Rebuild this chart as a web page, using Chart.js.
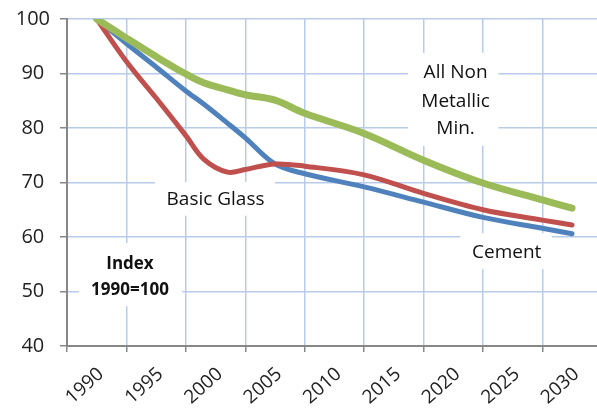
<!DOCTYPE html>
<html>
<head>
<meta charset="utf-8">
<script src="https://cdn.jsdelivr.net/npm/chart.js@4.4.0/dist/chart.umd.min.js"></script>
<style>
  html, body { margin: 0; padding: 0; background: #fff; }
</style>
</head>
<body>
<canvas id="indexChart" width="597" height="410"></canvas>
<script>
// values (index, 1990 = 100)
const years = [1992.5, 1995, 1997.5, 2000, 2001.5, 2003.5, 2005, 2007.5, 2010, 2015, 2020, 2025, 2030, 2032.5];
const nonMetallic = [100, 96.5, 93.1, 89.9, 88.3, 87.0, 86.1, 85.1, 82.7, 79.0, 74.1, 69.9, 66.8, 65.3];
const basicGlass = [100, 92.2, 85.5, 78.6, 74.3, 71.9, 72.4, 73.4, 73.0, 71.4, 68.0, 65.0, 63.1, 62.2];
const cement = [100, 95.5, 91.2, 86.8, 84.4, 80.9, 78.2, 73.4, 71.6, 69.2, 66.4, 63.6, 61.6, 60.6];

const xTicks = [1990, 1995, 2000, 2005, 2010, 2015, 2020, 2025, 2030];
const yTicks = [40, 50, 60, 70, 80, 90, 100];

// text notes, placed in data units (center, box corners)
const notes = [
  { lines: ['All Non', 'Metallic', 'Min.'], x: 2022.7, y: [90.1, 84.8, 79.8], box: [2018.7, 93.8, 2026.3, 76.7], bold: false },
  { lines: ['Basic Glass'], x: 2002.5, y: [66.8], box: [1997.4, 70.1, 2007.5, 63.9], bold: false },
  { lines: ['Cement'], x: 2027.0, y: [57.1], box: [2023.1, 60.7, 2030.8, 54.1], bold: false },
  { lines: ['Index', '1990=100'], x: 1995.3, y: [55.0, 50.3], box: [1991.0, 58.9, 1999.7, 47.3], bold: true }
];

function toPoints(vals) {
  return vals.map((v, i) => ({ x: years[i], y: v }));
}

const notesPlugin = {
  id: 'notes',
  beforeDatasetsDraw(chart) {
    const { ctx, scales: { x, y } } = chart;
    ctx.save();
    notes.forEach(n => {
      const x0 = x.getPixelForValue(n.box[0]), y0 = y.getPixelForValue(n.box[1]);
      const x1 = x.getPixelForValue(n.box[2]), y1 = y.getPixelForValue(n.box[3]);
      ctx.fillStyle = '#fff';
      ctx.fillRect(x0, y0, x1 - x0, y1 - y0);
      ctx.fillStyle = '#111';
      ctx.textAlign = 'center';
      ctx.textBaseline = 'middle';
      ctx.font = n.bold ? 'bold 17px "Open Sans"' : '19px "Open Sans"';
      n.lines.forEach((t, i) => {
        ctx.fillText(t, x.getPixelForValue(n.x), y.getPixelForValue(n.y[i]));
      });
    });
    ctx.restore();
  }
};

const gridBlue = '#b8cbea';
const axisGrey = '#878787';

const ctx = document.getElementById('indexChart').getContext('2d');
const indexChart = new Chart(ctx, {
  type: 'line',
  data: {
    datasets: [
      { label: 'All Non Metallic Min.', data: toPoints(nonMetallic), borderColor: '#9bbb59', borderWidth: 7 },
      { label: 'Basic Glass', data: toPoints(basicGlass), borderColor: '#c0504d', borderWidth: 5 },
      { label: 'Cement', data: toPoints(cement), borderColor: '#4f81bd', borderWidth: 5 }
    ]
  },
  options: {
    responsive: false,
    animation: false,
    layout: { padding: { top: 19, right: 0, left: 0, bottom: 0 } },
    elements: {
      point: { radius: 0 },
      line: { tension: 0.35, fill: false, borderCapStyle: 'round', borderJoinStyle: 'round' }
    },
    plugins: {
      legend: { display: false },
      tooltip: { enabled: false }
    },
    scales: {
      x: {
        type: 'linear',
        min: 1990,
        max: 2034.6,
        afterBuildTicks: s => { s.ticks = xTicks.map(v => ({ value: v })); },
        afterFit: s => { s.height = 64; s.paddingLeft = 0; s.paddingRight = 0; },
        grid: { color: gridBlue, lineWidth: 1.5, tickColor: axisGrey, tickLength: 6, tickWidth: 1.5 },
        border: { color: axisGrey, width: 2 },
        ticks: {
          minRotation: 42, maxRotation: 42,
          labelOffset: 34, padding: 11,
          color: '#222',
          font: { family: '"Open Sans"', size: 19 },
          callback: v => String(v)
        }
      },
      y: {
        min: 40,
        max: 100,
        afterBuildTicks: s => { s.ticks = yTicks.map(v => ({ value: v })); },
        afterFit: s => { s.width = 67; s.paddingTop = 0; s.paddingBottom = 0; },
        grid: { color: gridBlue, lineWidth: 1.5, tickColor: axisGrey, tickLength: 7, tickWidth: 1.5 },
        border: { color: axisGrey, width: 2 },
        ticks: {
          crossAlign: 'center',
          padding: 10,
          color: '#222',
          font: { family: '"Open Sans"', size: 20 },
          callback: v => String(v)
        }
      }
    }
  },
  plugins: [notesPlugin]
});
</script>
</body>
</html>
